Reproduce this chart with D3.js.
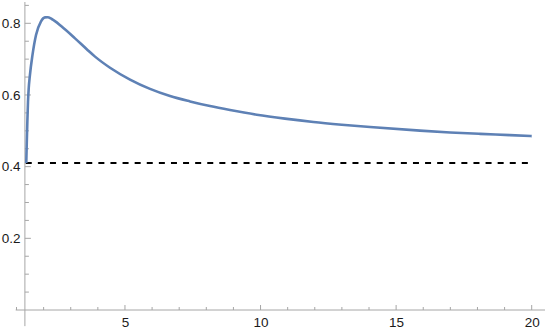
<!DOCTYPE html>
<html>
<head>
<meta charset="utf-8">
<script src="https://cdn.jsdelivr.net/npm/d3@7"></script>
<style>
html,body{margin:0;padding:0;background:#fff;}
svg{display:block;}
text{font-family:"Liberation Sans",Arial,sans-serif;font-size:13.5px;fill:#1a1a1a;}
</style>
</head>
<body>
<svg id="c" width="545" height="336"></svg>
<script>
// data
const curveX = [1.36, 1.38, 1.40, 1.424, 1.45, 1.49, 1.59, 1.72, 1.90, 2.05, 2.15, 2.298, 2.667, 3.158, 3.6, 3.896, 4.449, 5.187, 5.924, 6.662, 7.40, 8.137, 8.875, 9.86, 10.90, 11.95, 12.995, 14.04, 15.88, 16.99, 18.10, 19.20, 20.0];
const curveY = [0.41, 0.47, 0.5255, 0.581, 0.618, 0.652, 0.712, 0.7675, 0.8046, 0.8165, 0.8168, 0.812, 0.791, 0.758, 0.727, 0.707, 0.676, 0.643, 0.617, 0.597, 0.582, 0.569, 0.558, 0.545, 0.534, 0.5245, 0.517, 0.5105, 0.5005, 0.4955, 0.4915, 0.4880, 0.4852];
const refLevel = 0.41;
const yAxisAt = 1.31;
const xMajorTicks = [5, 10, 15, 20];
const xMinorTicks = [1,2,3,4,6,7,8,9,11,12,13,14,16,17,18,19];
const yMajorTicks = [0.2, 0.4, 0.6, 0.8];
const yMinorTicks = [0.05,0.1,0.15,0.25,0.3,0.35,0.45,0.5,0.55,0.65,0.7,0.75,0.85];

const svg = d3.select("#c");
const x = d3.scaleLinear().domain([1, 20]).range([16.5, 531.7]);
const y = d3.scaleLinear().domain([0, 0.8]).range([310, 23.3]);

const axisColor = "#a6a6a6";
const x0 = x(yAxisAt);
const y0 = y(0);

// x axis line
svg.append("line").attr("x1", x(1) - 0.8).attr("x2", 545).attr("y1", y0).attr("y2", y0)
  .attr("stroke", axisColor).attr("stroke-width", 1);
// y axis line
svg.append("line").attr("x1", x0).attr("x2", x0).attr("y1", 2).attr("y2", y(-0.045))
  .attr("stroke", axisColor).attr("stroke-width", 1);

// x ticks
svg.selectAll(".xmaj").data(xMajorTicks).enter().append("line")
  .attr("x1", d => x(d)).attr("x2", d => x(d)).attr("y1", y0).attr("y2", y0 - 5)
  .attr("stroke", axisColor);
svg.selectAll(".xmin").data(xMinorTicks).enter().append("line")
  .attr("x1", d => x(d)).attr("x2", d => x(d)).attr("y1", y0).attr("y2", y0 - 3)
  .attr("stroke", axisColor);
svg.selectAll(".xlab").data(xMajorTicks).enter().append("text")
  .attr("x", d => x(d) + 0.5).attr("y", 327.3).attr("text-anchor", "middle")
  .text(d => d);

// y ticks
svg.selectAll(".ymaj").data(yMajorTicks).enter().append("line")
  .attr("x1", x0).attr("x2", x0 + 6).attr("y1", d => y(d)).attr("y2", d => y(d))
  .attr("stroke", axisColor);
svg.selectAll(".ymin").data(yMinorTicks).enter().append("line")
  .attr("x1", x0).attr("x2", x0 + 4).attr("y1", d => y(d)).attr("y2", d => y(d))
  .attr("stroke", axisColor);
svg.selectAll(".ylab").data(yMajorTicks).enter().append("text")
  .attr("x", 20.5).attr("y", d => y(d) + 4.8).attr("text-anchor", "end")
  .text(d => d.toFixed(1));

// reference dashed line
svg.append("line").attr("x1", x(curveX[0]) - 0.5).attr("x2", x(20))
  .attr("y1", y(refLevel)).attr("y2", y(refLevel))
  .attr("stroke", "#000").attr("stroke-width", 2).attr("stroke-dasharray", "6,6.1");

// curve
const pts = curveX.map((v, i) => [v, curveY[i]]);
const line = d3.line().x(d => x(d[0])).y(d => y(d[1])).curve(d3.curveMonotoneX);
svg.append("path").datum(pts).attr("d", line)
  .attr("fill", "none").attr("stroke", "#5e81b5").attr("stroke-width", 2.6)
  .attr("stroke-linejoin", "round").attr("stroke-linecap", "butt");
</script>
</body>
</html>
